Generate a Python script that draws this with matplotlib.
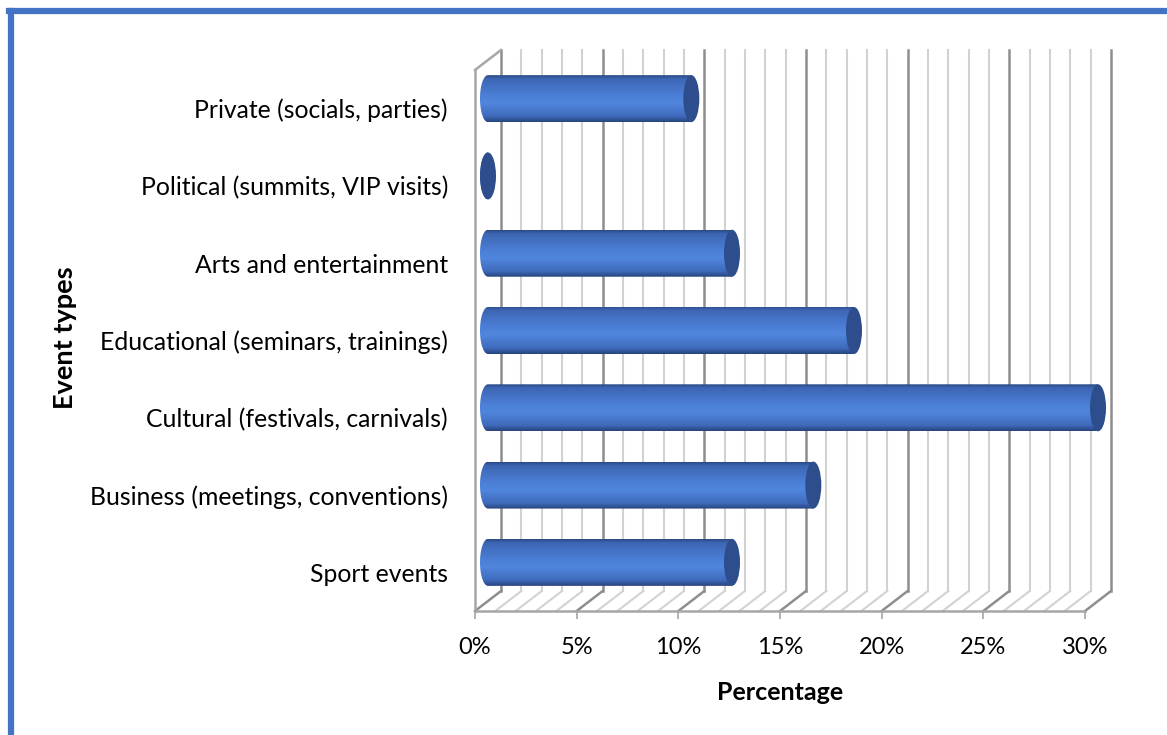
import numpy as np
import matplotlib.pyplot as plt
from matplotlib.colors import LinearSegmentedColormap
from matplotlib.patches import Polygon, Ellipse
from matplotlib.lines import Line2D

plt.rcParams['font.family'] = ['Lato', 'DejaVu Sans']

# survey share per event type, bottom to top
categories = ['Sport events', 'Business (meetings, conventions)', 'Cultural (festivals, carnivals)',
              'Educational (seminars, trainings)', 'Arts and entertainment',
              'Political (summits, VIP visits)', 'Private (socials, parties)']
shares = [12, 16, 30, 18, 12, 0, 10]
xticks = [0, 5, 10, 15, 20, 25, 30]
xlabels = ['0%', '5%', '10%', '15%', '20%', '25%', '30%']

W, H = 1167, 735
fig = plt.figure(figsize=(W / 100, H / 100), dpi=100)
fig.patch.set_facecolor('white')

# front plane of the 3d box
ax = fig.add_axes([475 / W, (H - 611) / H, 610 / W, 541 / H])
ax.set_xlim(0, 30)
ax.set_ylim(-0.5, 6.5)
ax.set_facecolor('none')

# depth offset (back wall vs front plane) in data units
DX = 26 / (610 / 30)
DY = 20 / (541 / 7)

ylo, yhi = -0.5, 6.5
for x in range(0, 31):
    major = x % 5 == 0
    c = '#8e8e8e' if major else '#d2d2d2'
    lw = 1.8 if major else 1.5
    ax.plot([x + DX, x + DX], [ylo + DY, yhi + DY], color=c, lw=lw, clip_on=False, zorder=1)
    ax.plot([x, x + DX], [ylo, ylo + DY], color=c, lw=lw, clip_on=False, zorder=1)
# side wall top edge
ax.plot([0, DX], [yhi, yhi + DY], color='#a6a6a6', lw=1.8, clip_on=False, zorder=1)

for s in ['top', 'right']:
    ax.spines[s].set_visible(False)
for s in ['left', 'bottom']:
    ax.spines[s].set_color('#a6a6a6')
    ax.spines[s].set_linewidth(1.8)

ax.set_xticks(xticks)
ax.set_xticklabels(xlabels, fontsize=17)
ax.tick_params(axis='x', length=6, width=1.2, color='#a6a6a6', pad=12.5)
ax.set_yticks(range(len(categories)))
ax.set_yticklabels(categories, fontsize=17.8)
ax.tick_params(axis='y', length=0, pad=19.5)
ax.set_xlabel('Percentage', fontsize=18, fontweight='bold', labelpad=17)
fig.text(65 / W, 1 - 338 / H, 'Event types', rotation=90, fontsize=19.5,
         fontweight='bold', ha='center', va='center')

# cylinder bars sit halfway into the depth
cmap = LinearSegmentedColormap.from_list('cyl', [
    (0.0, '#2c4a86'), (0.08, '#3d66b3'), (0.45, '#4c80d8'),
    (0.6, '#5086dd'), (0.88, '#3f6abb'), (1.0, '#27437c')])
grad = np.linspace(0, 1, 128).reshape(-1, 1)
rw = 8 / (610 / 30)
rh = 23.5 / (541 / 7)
for i, v in enumerate(shares):
    x0 = DX / 2
    x1 = x0 + v
    yc = i + DY / 2
    t = np.linspace(np.pi / 2, 3 * np.pi / 2, 40)
    pts = [(x0 + rw * np.cos(a), yc + rh * np.sin(a)) for a in t]
    pts += [(x1, yc - rh), (x1, yc + rh)]
    body = Polygon(pts, closed=True, transform=ax.transData)
    im = ax.imshow(grad, cmap=cmap, aspect='auto', origin='upper',
                   extent=(x0 - rw, x1 + 0.01, yc - rh, yc + rh), zorder=3)
    im.set_clip_path(body)
    im.set_clip_box(fig.bbox)
    cap = Ellipse((x1, yc), 2 * rw, 2 * rh, facecolor='#2d4d8c', edgecolor='none',
                  clip_on=False, zorder=4)
    ax.add_patch(cap)
ax.set_xlim(0, 30)
ax.set_ylim(-0.5, 6.5)

# blue frame around the chart
fig.add_artist(Line2D([11 / W, 11 / W], [0, 1 - 11 / H], color='#4472c4', lw=4.5))
fig.add_artist(Line2D([8.8 / W, 1], [1 - 11 / H, 1 - 11 / H], color='#4472c4', lw=4.5))

fig.savefig('out.png', dpi=100)
